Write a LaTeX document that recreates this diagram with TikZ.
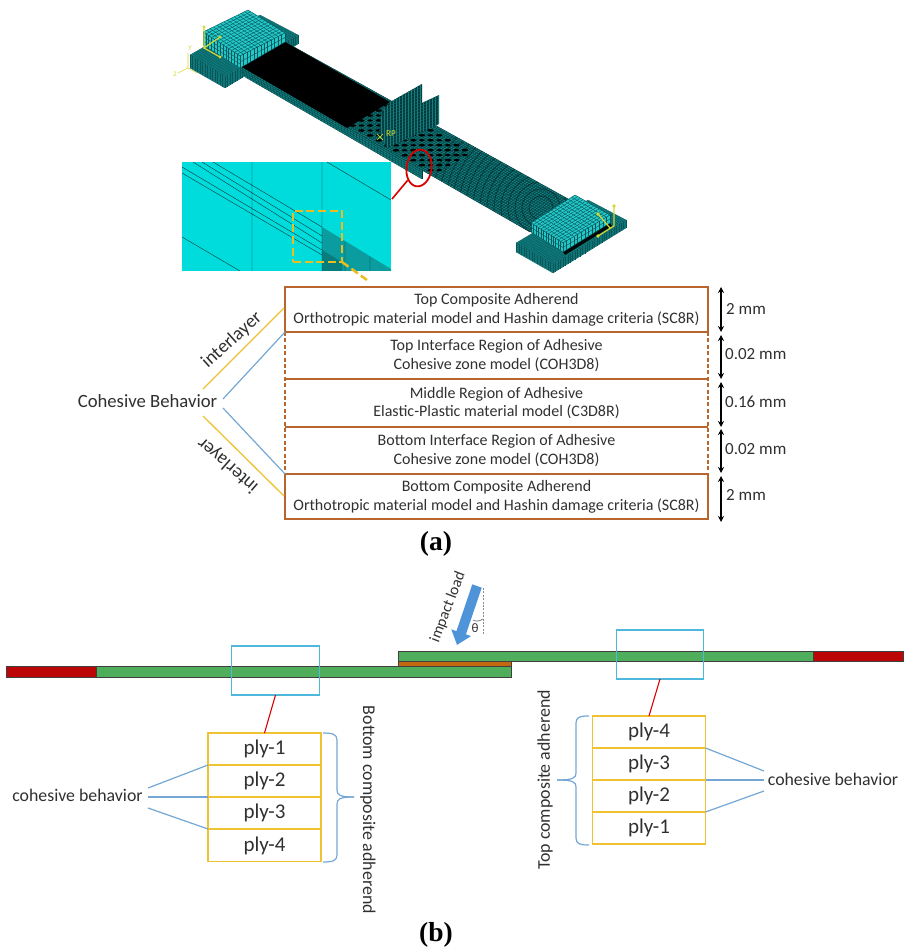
\documentclass[tikz,border=0pt]{standalone}
\usepackage{fontspec}
\setmainfont{Carlito}
\newfontfamily\capfont{Liberation Serif}
\usetikzlibrary{calc,arrows.meta,shapes.geometric}
\definecolor{brownb}{HTML}{B8662E}
\definecolor{goldl}{HTML}{EFC232}
\definecolor{bluel}{HTML}{74A7D3}
\definecolor{cyanb}{HTML}{4DB8DC}
\definecolor{txt}{HTML}{303030}
\definecolor{greenb}{HTML}{4EAE5C}
\definecolor{redb}{HTML}{BC0606}
\definecolor{orangeb}{HTML}{C4670F}
\definecolor{tealf}{HTML}{0F7F80}
\definecolor{teald}{HTML}{06393B}
\definecolor{tealm}{HTML}{0A5558}
\definecolor{cyanm}{HTML}{22C8C8}
\definecolor{insetc}{HTML}{00DCDC}
\definecolor{insetd}{HTML}{0A9C9E}
\definecolor{yelm}{HTML}{D6D832}
\definecolor{dashy}{HTML}{E8BE20}
\definecolor{arrowb}{HTML}{4F94D8}
\newcommand\meshface[9]{%
  \fill[#7] #1--#2--#3--#4--cycle;
  \foreach \i in {0,...,#5}{\pgfmathsetmacro\tq{\i/#5}\draw[#8,line width=#9] ($#1!\tq!#2$)--($#4!\tq!#3$);}
  \foreach \i in {0,...,#6}{\pgfmathsetmacro\tq{\i/#6}\draw[#8,line width=#9] ($#1!\tq!#4$)--($#2!\tq!#3$);}
}
\tikzset{
  rowbox/.style={minimum width=423pt,inner sep=0pt,outer sep=0pt,align=center,text=txt,font=\fontsize{16}{18.7}\selectfont},
  rowline/.style={brownb,line width=2pt},
  rowdash/.style={brownb,line width=1.6pt,dash pattern=on 4pt off 2.4pt},
  dimarrow/.style={black,line width=1.2pt,{Stealth[length=6pt,width=6pt]}-{Stealth[length=6pt,width=6pt]}},
  dimtext/.style={anchor=west,inner sep=0pt,text=txt,font=\fontsize{17}{20}\selectfont},
  sidetext/.style={inner sep=0pt,text=txt,font=\fontsize{17.9}{20}\selectfont},
  cohblue/.style={bluel,line width=1.2pt},
  cohyel/.style={goldl,line width=1.3pt},
  plybox/.style={draw=goldl,line width=1.3pt,minimum width=113pt,minimum height=32pt,inner sep=0pt,outer sep=0pt,text=txt,font=\fontsize{21}{24}\selectfont},
  zoombox/.style={draw=cyanb,line width=1.3pt,minimum width=87.5pt,minimum height=49pt,inner sep=0pt,outer sep=0pt},
  redlink/.style={red!85!black,line width=1.1pt},
  barframe/.style={draw=black!75,line width=.7pt},
  caplabel/.style={inner sep=0pt,font=\capfont\bfseries\fontsize{27.5}{30}\selectfont},
  yaxis/.style={yelm,line width=1.2pt}
}
\begin{document}
\begin{tikzpicture}[x=1pt,y=-1pt]
\useasboundingbox (0,0) rectangle (904,949);
% ---------- left lower tab
\meshface{(190,55)}{(260,15)}{(298,35)}{(225,76)}{30}{24}{tealf}{tealm}{.2}
\meshface{(190,55)}{(225,76)}{(225,88)}{(190,68)}{14}{6}{tealf}{tealm}{.2}
\meshface{(225,76)}{(298,35)}{(298,44)}{(225,88)}{30}{6}{tealf}{tealm}{.2}
% ---------- strip side and surface
\meshface{(242,67)}{(422,170)}{(422,179)}{(245,77)}{60}{4}{tealf}{teald}{.3}
\meshface{(242,67)}{(285,42)}{(570,200)}{(530,232)}{22}{130}{tealf}{teald}{.42}
% moire arcs
\begin{scope}
  \clip (242,67)--(285,42)--(570,200)--(530,232)--cycle;
  \foreach \r in {12,19,...,110}{\draw[black,line width=.8pt,opacity=.4] (541,208) circle[radius=\r];}
  \foreach \u in {.37,.40,...,.66}{\foreach \v in {.1,.3,.5,.7,.9}{
     \pgfmathsetmacro\px{242+288*\u+43*\v}\pgfmathsetmacro\py{67+165*\u-25*\v}
     \fill[black] (\px,\py) ellipse[x radius=3.2,y radius=1.3];}}
  \foreach \u in {.385,.415,...,.655}{\foreach \v in {.2,.4,.6,.8}{
     \pgfmathsetmacro\px{242+288*\u+43*\v}\pgfmathsetmacro\py{67+165*\u-25*\v}
     \fill[black] (\px,\py) ellipse[x radius=2.8,y radius=1.1];}}
\end{scope}
\fill[black] (242,67)--(285,42)--(390,102)--(347,128)--cycle;
% impactor plate
\fill[teald] (390,102)--(422,84)--(422,103)--(439,95)--(439,124)--(387,148)--(379,132)--(382,112)--cycle;
\begin{scope}
  \clip (390,102)--(422,84)--(422,103)--(439,95)--(439,124)--(387,148)--(379,132)--(382,112)--cycle;
  \foreach \x in {378,381,...,441}{\draw[tealf,line width=.2pt] (\x,80)--(\x,150);}
  \foreach \y in {60,63,...,170}{\draw[tealf,line width=.2pt] (375,\y)--(442,\y-25);}
\end{scope}
% RP marker
\draw[yelm,line width=.7pt] (377,134)--(383,140) (377,140)--(383,134);
\node[inner sep=0pt,text=yelm,font=\fontsize{9}{10}\selectfont] (rp) at (391,134) {RP};
% left upper block
\meshface{(203,32)}{(248,10)}{(285,33)}{(240,56)}{13}{13}{cyanm}{tealm}{.4}
\meshface{(203,32)}{(240,56)}{(240,68)}{(203,45)}{13}{3}{cyanm}{tealm}{.4}
\meshface{(240,56)}{(285,33)}{(285,42)}{(240,68)}{13}{2}{cyanm}{tealm}{.4}
% left symbols
\draw[yaxis] (204,27)--(204,48)--(220,37) (204,48)--(220,57);
\fill[yelm] (220,37) circle[radius=1.6] (220,57) circle[radius=1.6] (204,27) circle[radius=1.6];
\draw[yelm,line width=.6pt] (188,53)--(188,68)--(178,73) (188,68)--(197,73);
\node[inner sep=0pt,text=yelm,font=\fontsize{7}{8}\selectfont] (axy) at (190,48) {Y};
\node[inner sep=0pt,text=yelm,font=\fontsize{7}{8}\selectfont] (axz) at (175,74) {2};
% ---------- right tab
\meshface{(516,243)}{(588,200)}{(626,220)}{(553,264)}{30}{24}{tealf}{tealm}{.2}
\meshface{(516,243)}{(553,264)}{(553,273)}{(516,252)}{14}{5}{tealf}{tealm}{.2}
\meshface{(553,264)}{(626,220)}{(626,228)}{(553,273)}{30}{5}{tealf}{tealm}{.2}
\fill[black!85!teald] (563,252)--(610,223)--(612,226)--(565,255)--cycle;
\meshface{(531,223)}{(575,195)}{(610,215)}{(563,243)}{13}{13}{cyanm}{tealm}{.4}
\meshface{(531,223)}{(563,243)}{(563,252)}{(531,232)}{13}{2}{cyanm}{tealm}{.4}
\meshface{(563,243)}{(610,215)}{(610,223)}{(563,252)}{13}{2}{cyanm}{tealm}{.4}
\draw[yaxis] (614,206)--(614,226)--(598,236) (598,214)--(610,228);
\fill[yelm] (614,206) circle[radius=1.8] (598,236) circle[radius=1.8] (598,214) circle[radius=1.8];
% ---------- inset
\fill[insetc] (182,162) rectangle (391,271);
\begin{scope}
  \clip (182,162) rectangle (391,271);
  \fill[insetd] (322,227)--(391,269)--(391,271)--(322,271)--cycle;
  \fill[insetd!80!black] (322,250)--(342,262)--(342,271)--(322,271)--cycle;
  \draw[teald,line width=.4pt] (252,162)--(252,271) (322,162)--(322,271)
    (193,162)--(322,243) (202,162)--(322,236) (213,162)--(322,227)
    (182,167)--(322,250) (182,173)--(322,255) (327,162)--(391,200) (182,237)--(240,271)
    (345,242)--(345,271) (370,257)--(370,271);
\end{scope}
\node[draw=dashy,line width=2.5pt,dash pattern=on 8pt off 3.6pt,minimum width=49pt,minimum height=51pt,inner sep=0pt,outer sep=0pt] (dsq) at (317.5,236.5) {};
\coordinate (dtail) at (367,280);
\draw[dashy,line width=2.5pt,dash pattern=on 8pt off 3.6pt] (dsq.south east)--(dtail);
\node[draw=red!85!black,line width=1.8pt,ellipse,minimum width=25pt,minimum height=37pt,inner sep=0pt,rotate=-8] (ell) at (419,168) {};
\coordinate (insetr) at (392,199);
\draw[red!85!black,line width=1.6pt] (ell.south west)--(insetr);
% ---------- table
\node[rowbox,minimum height=45pt] (r1) at (496.5,309.5) {Top Composite Adherend\\Orthotropic material model and Hashin damage criteria (SC8R)};
\node[rowbox,minimum height=47pt] (r2) at (496.5,355.5) {Top Interface Region of Adhesive\\Cohesive zone model (COH3D8)};
\node[rowbox,minimum height=48pt] (r3) at (496.5,403) {Middle Region of Adhesive\\Elastic-Plastic material model (C3D8R)};
\node[rowbox,minimum height=47pt] (r4) at (496.5,450.5) {Bottom Interface Region of Adhesive\\Cohesive zone model (COH3D8)};
\node[rowbox,minimum height=45pt] (r5) at (496.5,496.5) {Bottom Composite Adherend\\Orthotropic material model and Hashin damage criteria (SC8R)};
\draw[rowdash] (r2.north west)--(r4.south west) (r2.north east)--(r4.south east);
\draw[rowline] (r2.south west)--(r2.south east) (r3.south west)--(r3.south east);
\draw[rowline] (r1.north west) rectangle (r1.south east);
\draw[rowline] (r5.north west) rectangle (r5.south east);
% dimension arrows
\foreach \n/\a/\b in {d1/287/332,d2/335/379,d3/382/427,d4/429/473,d5/476/522}{
  \coordinate (\n a) at (721,\a); \coordinate (\n b) at (721,\b);
  \draw[dimarrow] (\n a)--(\n b);}
\node[dimtext] (t1) at (726,309) {2 mm};
\node[dimtext] (t2) at (725,354) {0.02 mm};
\node[dimtext] (t3) at (725,402) {0.16 mm};
\node[dimtext] (t4) at (725,449) {0.02 mm};
\node[dimtext] (t5) at (726,495) {2 mm};
% cohesive behaviour (a)
\node[sidetext,font=\fontsize{18.7}{22}\selectfont] (cb) at (147.5,401) {Cohesive Behavior};
\coordinate (ya) at (203,389); \coordinate (yb) at (284,308);
\coordinate (ba) at (223,399); \coordinate (bb) at (223,408);
\coordinate (yc) at (203,416); \coordinate (yd) at (284,496);
\draw[cohyel] (ya)--(yb);
\draw[cohblue] (ba)--(r2.north west);
\draw[cohblue] (bb)--(r4.south west);
\draw[cohyel] (yc)--(yd);
\node[sidetext,font=\fontsize{19}{22}\selectfont,rotate=42] (il1) at (232,340) {interlayer};
\node[sidetext,font=\fontsize{19}{22}\selectfont,rotate=139] (il2) at (228,465) {interlayer};
\node[caplabel] (capa) at (436,544) {(a)};
% ---------- bars
\draw[barframe,fill=greenb] (96,666) rectangle (511,677);
\draw[barframe,fill=redb] (6,666) rectangle (96,677);
\draw[barframe,fill=orangeb] (398,661) rectangle (511,666);
\draw[barframe,fill=greenb] (398,651) rectangle (813,661.5);
\draw[barframe,fill=redb] (813,651) rectangle (903,661.5);
% impact load
\coordinate (ia) at (477,586); \coordinate (ib) at (457,645);
\draw[-{Triangle[length=13pt,width=20pt]},line width=10pt,color=arrowb] (ia)--(ib);
\coordinate (va) at (483,588); \coordinate (vb) at (483,634);
\draw[black!45,line width=.9pt,dash pattern=on 2pt off 1.4pt] (va)--(vb);
\coordinate (ta) at (473,620); \coordinate (tb) at (483,619);
\draw[black!60,line width=.6pt] (ta) .. controls (476,622) and (480,621) .. (tb);
\node[inner sep=0pt,text=txt,font=\fontsize{13}{15}\selectfont] (th) at (475,628) {θ};
\node[inner sep=0pt,text=txt,font=\fontsize{15.5}{17}\selectfont,rotate=69] (il) at (448,607) {impact load};
% ---------- zoom boxes and plies
\node[zoombox] (zl) at (275.5,670.5) {};
\node[zoombox] (zr) at (660,654.5) {};
\node[plybox] (l1) at (264.5,749) {ply-1};
\node[plybox] (l2) at (264.5,781) {ply-2};
\node[plybox] (l3) at (264.5,813) {ply-3};
\node[plybox] (l4) at (264.5,845.5) {ply-4};
\node[plybox] (p4) at (649,732) {ply-4};
\node[plybox] (p3) at (649,764) {ply-3};
\node[plybox] (p2) at (649,796) {ply-2};
\node[plybox] (p1) at (649,828) {ply-1};
\draw[redlink] (zl.south)--(l1.north);
\draw[redlink] (zr.south)--(p4.north);
% cohesive behaviour (b)
\node[inner sep=0pt,text=txt,font=\fontsize{17.8}{20}\selectfont] (cl) at (77.5,795) {cohesive behavior};
\node[inner sep=0pt,text=txt,font=\fontsize{17.8}{20}\selectfont] (cr) at (833,779) {cohesive behavior};
\coordinate (cl1) at (148,788); \coordinate (cl2) at (148,797); \coordinate (cl3) at (148,808);
\coordinate (cr1) at (764,771); \coordinate (cr2) at (764,780); \coordinate (cr3) at (764,791);
\draw[cohblue] (cl1)--(l1.south west);
\draw[cohblue] (cl2)--(l2.south west);
\draw[cohblue] (cl3)--(l3.south west);
\draw[cohblue] (cr1)--(p4.south east);
\draw[cohblue] (cr2)--(p3.south east);
\draw[cohblue] (cr3)--(p2.south east);
% braces
\coordinate (bl1) at (323,733); \coordinate (bl2) at (354,797); \coordinate (bl3) at (323,862);
\draw[cohblue] (bl1) .. controls (332,733) and (337,734) .. (337,740) -- (337,790) .. controls (337,795) and (340,797) .. (bl2);
\draw[cohblue] (bl3) .. controls (332,862) and (337,861) .. (337,855) -- (337,804) .. controls (337,799) and (340,797) .. (bl2);
\coordinate (br1) at (589,716); \coordinate (br2) at (557,780); \coordinate (br3) at (589,845);
\draw[cohblue] (br1) .. controls (580,716) and (576,717) .. (576,723) -- (576,773) .. controls (576,778) and (573,780) .. (br2);
\draw[cohblue] (br3) .. controls (580,845) and (576,844) .. (576,838) -- (576,787) .. controls (576,782) and (573,780) .. (br2);
\node[sidetext,rotate=-90] (bca) at (368,810) {Bottom composite adherend};
\node[sidetext,rotate=90] (tca) at (545,780) {Top composite adherend};
\node[caplabel] (capb) at (436,935) {(b)};
\end{tikzpicture}
\end{document}
